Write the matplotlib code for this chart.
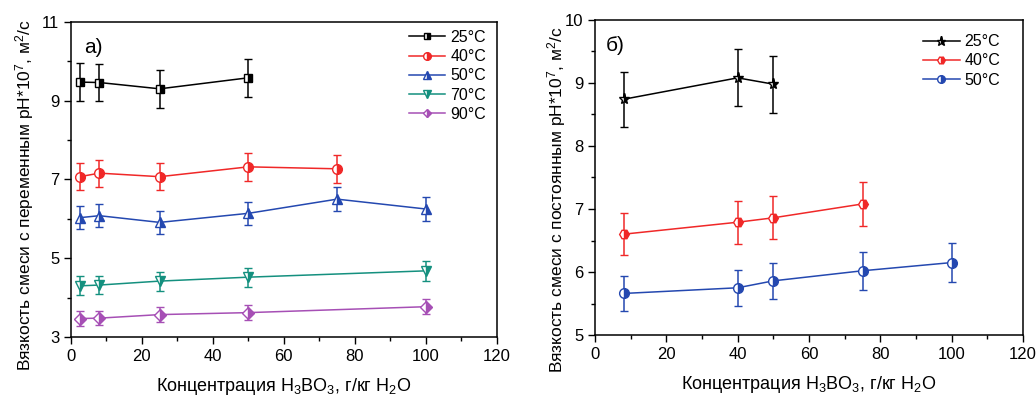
import numpy as np
import matplotlib
matplotlib.use("Agg")
import matplotlib.pyplot as plt
from matplotlib.lines import Line2D

plt.rcParams['font.family'] = ['Liberation Sans', 'DejaVu Sans']
plt.rcParams['mathtext.default'] = 'regular'

# panel a) - variable pH
x_a = {
    '25°C': [2.5, 8, 25, 50],
    '40°C': [2.5, 8, 25, 50, 75],
    '50°C': [2.5, 8, 25, 50, 75, 100],
    '70°C': [2.5, 8, 25, 50, 100],
    '90°C': [2.5, 8, 25, 50, 100],
}
y_a = {
    '25°C': [9.47, 9.46, 9.30, 9.58],
    '40°C': [7.07, 7.16, 7.07, 7.32, 7.27],
    '50°C': [6.03, 6.08, 5.91, 6.14, 6.50, 6.25],
    '70°C': [4.30, 4.32, 4.42, 4.52, 4.68],
    '90°C': [3.47, 3.48, 3.57, 3.62, 3.77],
}
err_a = {
    '25°C': [0.48, 0.48, 0.48, 0.48],
    '40°C': [0.34, 0.34, 0.34, 0.36, 0.36],
    '50°C': [0.29, 0.29, 0.29, 0.30, 0.30, 0.30],
    '70°C': [0.24, 0.24, 0.24, 0.24, 0.25],
    '90°C': [0.18, 0.18, 0.19, 0.19, 0.19],
}

# panel б) - constant pH
x_b = {
    '25°C': [8, 40, 50],
    '40°C': [8, 40, 50, 75],
    '50°C': [8, 40, 50, 75, 100],
}
y_b = {
    '25°C': [8.74, 9.08, 8.98],
    '40°C': [6.60, 6.79, 6.86, 7.08],
    '50°C': [5.66, 5.75, 5.86, 6.02, 6.15],
}
err_b = {
    '25°C': [0.44, 0.45, 0.45],
    '40°C': [0.33, 0.34, 0.34, 0.35],
    '50°C': [0.28, 0.29, 0.29, 0.30, 0.31],
}

colors = {'25°C': 'black', '40°C': '#f02828', '50°C': '#2448b0',
          '70°C': '#14907f', '90°C': '#a64fb5'}
markers_a = {'25°C': 's', '40°C': 'o', '50°C': '^', '70°C': 'v', '90°C': 'D'}
markers_b = {'25°C': '*', '40°C': 'H', '50°C': 'o'}

fig = plt.figure(figsize=(10.36, 3.97), dpi=100)
ax1 = fig.add_axes([0.0685, 0.151, 0.411, 0.794])
ax2 = fig.add_axes([0.5743, 0.156, 0.4132, 0.794])


def draw(ax, xs, ys, errs, markers, ms, anchor):
    handles = []
    for key in xs:
        c = colors[key]
        style = dict(marker=markers[key], fillstyle='right',
                     markerfacecolor=c, markerfacecoloralt='white',
                     markeredgecolor=c, markeredgewidth=1)
        ax.errorbar(xs[key], ys[key], yerr=errs[key], color=c, lw=1.1,
                    elinewidth=1.1, capsize=3, capthick=1.1,
                    ms=ms[key], **style)
        handles.append(Line2D([], [], color=c, lw=1.1, ms=ms[key] - 1.5,
                              label=key, **style))
    ax.legend(handles=handles, loc='upper right', bbox_to_anchor=anchor,
              frameon=False, fontsize=11.5, handlelength=2.3,
              handletextpad=0.3, labelspacing=0.27, borderaxespad=0)


draw(ax1, x_a, y_a, err_a, markers_a,
     {'25°C': 6, '40°C': 7, '50°C': 7, '70°C': 7, '90°C': 6}, (0.99, 0.995))
draw(ax2, x_b, y_b, err_b, markers_b,
     {'25°C': 8, '40°C': 7, '50°C': 7}, (0.962, 0.975))

ax1.set_xlim(0, 120)
ax1.set_ylim(3, 11)
ax1.set_xticks(np.arange(0, 121, 20))
ax1.set_xticks(np.arange(10, 120, 20), minor=True)
ax1.set_yticks([3, 5, 7, 9, 11])
ax1.set_yticks([4, 6, 8, 10], minor=True)

ax2.set_xlim(0, 120)
ax2.set_ylim(5, 10)
ax2.set_xticks(np.arange(0, 121, 20))
ax2.set_xticks(np.arange(10, 120, 20), minor=True)
ax2.set_yticks(np.arange(5, 11, 1))
ax2.set_yticks(np.arange(5.5, 10, 1), minor=True)

for ax in (ax1, ax2):
    ax.tick_params(which='major', direction='out', length=5, width=1, labelsize=12)
    ax.tick_params(which='minor', direction='out', length=3, width=1)
    ax.set_xlabel('Концентрация H$_3$BO$_3$, г/кг H$_2$O', fontsize=13, labelpad=9)
    for s in ax.spines.values():
        s.set_linewidth(1.1)

ax1.set_ylabel('Вязкость смеси с переменным рН*10$^7$, м$^2$/с', fontsize=12.5)
ax2.set_ylabel('Вязкость смеси с постоянным рН*10$^7$, м$^2$/с', fontsize=12.5)
ax1.yaxis.set_label_coords(-0.082, 0.45)
ax2.yaxis.set_label_coords(-0.064, 0.43)

ax1.text(0.03, 0.95, 'а)', transform=ax1.transAxes, fontsize=15, va='top')
ax2.text(0.025, 0.95, 'б)', transform=ax2.transAxes, fontsize=15, va='top')

fig.savefig('out.png', dpi=100)
